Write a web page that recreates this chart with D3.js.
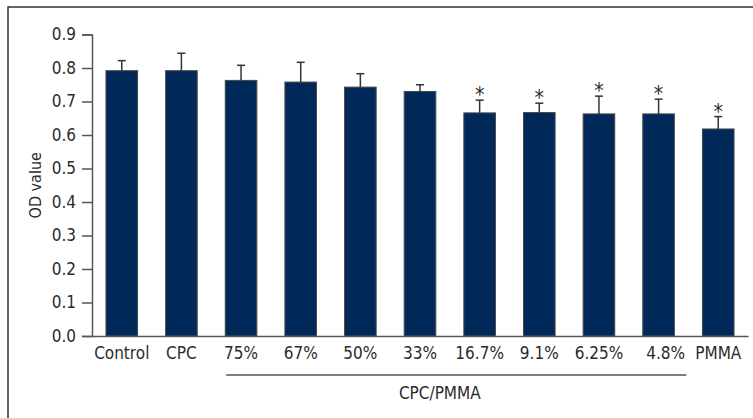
<!DOCTYPE html>
<html>
<head>
<meta charset="utf-8">
<script src="https://cdn.jsdelivr.net/npm/d3@7"></script>
<style>
  html, body { margin: 0; padding: 0; background: #fff; }
  svg text { font-family: "Liberation Sans Narrow", "DejaVu Sans Condensed", "Roboto", sans-serif; fill: #2b2b2b; }
</style>
</head>
<body>
<svg id="chart" width="753" height="418"></svg>
<script>
(function() {
    // data
    var groups = ["Control", "CPC", "75%", "67%", "50%", "33%", "16.7%", "9.1%", "6.25%", "4.8%", "PMMA"];
    var means  = [0.792, 0.792, 0.763, 0.758, 0.743, 0.730, 0.666, 0.667, 0.663, 0.663, 0.618];
    var errs   = [0.030, 0.052, 0.045, 0.059, 0.040, 0.020, 0.038, 0.028, 0.053, 0.044, 0.037];
    var signif = [false, false, false, false, false, false, true, true, true, true, true];
    var yTicks = [0, 0.1, 0.2, 0.3, 0.4, 0.5, 0.6, 0.7, 0.8, 0.9];
    var bracketFrom = "75%", bracketTo = "4.8%";
    var bracketLabel = "CPC/PMMA";
    var yTitle = "OD value";

    var svg = d3.select("#chart");

    // outer frame (top and left edges only are visible)
    svg.append("path")
        .attr("d", "M8,418 V7 H753")
        .attr("fill", "none")
        .attr("stroke", "#333")
        .attr("stroke-width", 1.5);

    var x = d3.scaleBand()
        .domain(groups)
        .range([92, 748])
        .paddingInner(0.47)
        .paddingOuter(0.234);

    var y = d3.scaleLinear()
        .domain([0, 0.9])
        .range([336, 34.5]);

    var bw = x.bandwidth();

    // bars
    svg.append("g").selectAll("rect")
        .data(groups)
        .join("rect")
            .attr("x", function(d) { return x(d); })
            .attr("y", function(d, i) { return y(means[i]); })
            .attr("width", bw)
            .attr("height", function(d, i) { return y(0) - y(means[i]); })
            .attr("fill", "#002858")
            .attr("stroke", "#4a4a4a")
            .attr("stroke-width", 1);

    // error bars (upper only)
    var eb = svg.append("g").attr("stroke", "#333").attr("stroke-width", 1.5);
    eb.selectAll("line.v")
        .data(groups)
        .join("line")
            .attr("class", "v")
            .attr("x1", function(d) { return x(d) + bw / 2; })
            .attr("x2", function(d) { return x(d) + bw / 2; })
            .attr("y1", function(d, i) { return y(means[i]); })
            .attr("y2", function(d, i) { return y(means[i] + errs[i]); });
    eb.selectAll("line.c")
        .data(groups)
        .join("line")
            .attr("class", "c")
            .attr("x1", function(d) { return x(d) + bw / 2 - 4; })
            .attr("x2", function(d) { return x(d) + bw / 2 + 4; })
            .attr("y1", function(d, i) { return y(means[i] + errs[i]); })
            .attr("y2", function(d, i) { return y(means[i] + errs[i]); });

    // significance stars
    svg.append("g").selectAll("text")
        .data(groups.filter(function(d, i) { return signif[i]; }))
        .join("text")
            .attr("x", function(d) { return x(d) + bw / 2; })
            .attr("y", function(d) {
                var i = groups.indexOf(d);
                return y(means[i] + errs[i]) + 2;
            })
            .attr("text-anchor", "middle")
            .style("font-size", "21px")
            .text("*");

    // y axis
    var yAxis = svg.append("g")
        .attr("transform", "translate(92,0)")
        .call(d3.axisLeft(y).tickValues(yTicks).tickFormat(d3.format(".1f")).tickSize(10).tickPadding(6));
    yAxis.selectAll("path, line").attr("stroke", "#555").attr("stroke-width", 1.5);
    yAxis.selectAll("text").style("font-size", "17px").attr("fill", "#2b2b2b");

    // x axis (baseline only, no ticks)
    var xAxis = svg.append("g")
        .attr("transform", "translate(0,336)")
        .call(d3.axisBottom(x).tickSize(0).tickPadding(11).tickSizeOuter(0));
    xAxis.select(".domain").attr("stroke", "#555").attr("stroke-width", 1.5);
    xAxis.selectAll("text").style("font-size", "17px").attr("fill", "#2b2b2b")
        .attr("dx", function(d) { return d === "4.8%" ? 7 : 0; });

    // y title
    svg.append("text")
        .attr("transform", "translate(41," + (y(0.45)) + ") rotate(-90)")
        .attr("text-anchor", "middle")
        .style("font-size", "16px")
        .text(yTitle);

    // group bracket
    var bx1 = x(bracketFrom) + 1;
    var bx2 = x(bracketTo) + bw + 0.2 * x.step();
    svg.append("line")
        .attr("x1", bx1).attr("x2", bx2)
        .attr("y1", 375).attr("y2", 375)
        .attr("stroke", "#555")
        .attr("stroke-width", 1.5);
    svg.append("text")
        .attr("x", (x("33%") + x("16.7%") + bw) / 2 - 10)
        .attr("y", 399)
        .attr("text-anchor", "middle")
        .style("font-size", "17px")
        .text(bracketLabel);
})();
</script>
</body>
</html>
